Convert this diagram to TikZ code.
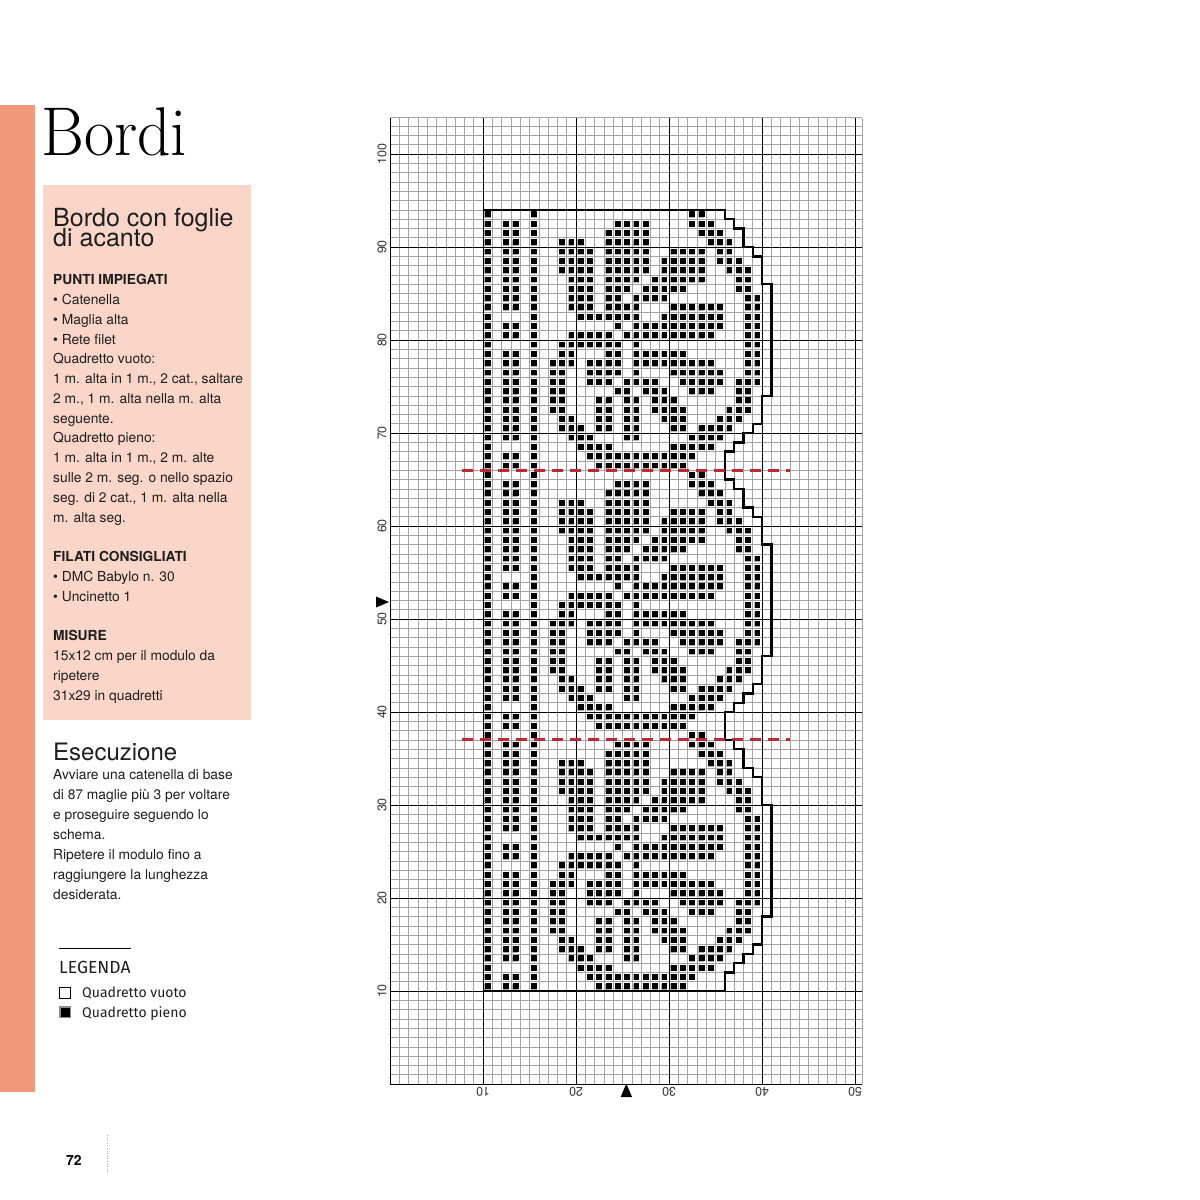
\documentclass[tikz,border=0pt]{standalone}
\usepackage{fontspec}
\usepackage{graphicx}
\newfontfamily\hv{TeX Gyre Heros}
\newfontfamily\fira{Fira Sans}
\definecolor{salmon}{HTML}{F2997B}
\definecolor{peach}{HTML}{F9D6C8}
\definecolor{dashred}{HTML}{BB2B35}
\definecolor{gridgray}{HTML}{A4A4A4}
\definecolor{ink}{HTML}{1E1E1E}
\definecolor{sqshadow}{HTML}{B4B4B4}
\tikzset{
  body/.style={anchor=base west, inner sep=0pt, text=ink, font=\hv\fontsize{13.8pt}{16pt}\selectfont},
  bodyb/.style={body, font=\hv\bfseries\fontsize{13.8pt}{16pt}\selectfont},
  head/.style={anchor=base west, inner sep=0pt, text=ink, align=left, font=\hv\fontsize{25pt}{20pt}\selectfont},
  gridthin/.style={draw=gridgray, line width=0.55pt},
  griddark/.style={draw=black, line width=0.9pt},
  outline/.style={draw=black, line width=2.4pt, line join=miter},
  axislab/.style={inner sep=0pt, text=black!80, font=\hv\fontsize{12.5pt}{13pt}\selectfont},
  redcut/.style={draw=dashred, line width=3pt, dash pattern=on 11pt off 7pt},
  legtext/.style={anchor=base west, inner sep=0pt, text=ink, font=\fira\fontsize{14pt}{16pt}\selectfont},
}
\begin{document}
\begin{tikzpicture}[x=1pt,y=-1pt]
\useasboundingbox (0,0) rectangle (1200,1200);
\fill[white] (0,0) rectangle (1200,1200);
% left bar and box
\fill[salmon] (0,105) rectangle (34.5,1092);
\fill[peach] (43,185) rectangle (251,720);
% title
\node[anchor=base west, inner sep=0pt, text=black] (title) at (41,155) {\fontsize{69pt}{70pt}\selectfont\scalebox{0.95}[1]{Bordi}};
% box heading (base anchor = last line)
\node[head] (h1) at (53,246) {Bordo con foglie\\[-5pt]di acanto};
% box body
\node[bodyb] (b1) at (53,284) {PUNTI IMPIEGATI};
\node[body] (b2) at (53,304) {\textbullet\ Catenella};
\node[body] (b3) at (53,324) {\textbullet\ Maglia alta};
\node[body] (b4) at (53,344) {\textbullet\ Rete filet};
\node[body] (b5) at (53,363) {Quadretto vuoto:};
\node[body] (b6) at (53,383) {1 m. alta in 1 m., 2 cat., saltare};
\node[body] (b7) at (53,403) {2 m., 1 m. alta nella m. alta};
\node[body] (b8) at (53,423) {seguente.};
\node[body] (b9) at (53,442) {Quadretto pieno:};
\node[body] (b10) at (53,462) {1 m. alta in 1 m., 2 m. alte};
\node[body] (b11) at (53,482) {sulle 2 m. seg. o nello spazio};
\node[body] (b12) at (53,502) {seg. di 2 cat., 1 m. alta nella};
\node[body] (b13) at (53,522) {m. alta seg.};
\node[bodyb] (b14) at (53,561) {FILATI CONSIGLIATI};
\node[body] (b15) at (53,581) {\textbullet\ DMC Babylo n. 30};
\node[body] (b16) at (53,601) {\textbullet\ Uncinetto 1};
\node[bodyb] (b17) at (53,640) {MISURE};
\node[body] (b18) at (53,660) {15x12 cm per il modulo da};
\node[body] (b19) at (53,680) {ripetere};
\node[body] (b20) at (53,700) {31x29 in quadretti};
% Esecuzione
\node[head, font=\hv\fontsize{24pt}{26pt}\selectfont] (e0) at (53,760) {Esecuzione};
\node[body] (e1) at (53,779) {Avviare una catenella di base};
\node[body] (e2) at (53,799) {di 87 maglie più 3 per voltare};
\node[body] (e3) at (53,819) {e proseguire seguendo lo};
\node[body] (e4) at (53,839) {schema.};
\node[body] (e5) at (53,859) {Ripetere il modulo fino a};
\node[body] (e6) at (53,879) {raggiungere la lunghezza};
\node[body] (e7) at (53,899) {desiderata.};
% legend
\draw[black, line width=0.8pt] (59,948) -- (131,948);
\node[legtext, font=\fira\fontsize{17.5pt}{18pt}\selectfont] (leg) at (59,973) {LEGENDA};
\draw[black, line width=1pt] (59.5,987) rectangle (70.5,998);
\fill[black!45] (59,1006) rectangle (71,1018);
\fill[black] (60.5,1007.5) rectangle (70,1017);
\node[legtext] (l1) at (82,997) {Quadretto vuoto};
\node[legtext] (l2) at (82,1017) {Quadretto pieno};
% page number
\node[anchor=base west, inner sep=0pt, font=\hv\bfseries\fontsize{14pt}{15pt}\selectfont] (pg) at (66,1165) {72};
\draw[black!35, line width=0.6pt, dotted] (107,1135) -- (107,1173);
% markers
\fill[black] (376,596.5) -- (376,607.5) -- (389,602) -- cycle;
\fill[black] (620.7,1097) -- (632,1097) -- (626.3,1083.5) -- cycle;
% chart
\begin{scope}[shift={(390,1084)}, x=9.3pt, y=9.3pt]
  \foreach \c in {0,...,50} \draw[gridthin] (\c,0) -- (\c,103.9);
  \draw[gridthin] (50.75,0) -- (50.75,103.9);
  \foreach \r in {0,...,103} \draw[gridthin] (0,\r) -- (50.75,\r);
  \draw[gridthin] (0,103.9) -- (50.75,103.9);
  \foreach \c in {10,20,30,40,50} \draw[griddark] (\c,0) -- (\c,103.9);
  \foreach \r in {10,20,...,100} \draw[griddark] (0,\r) -- (50.75,\r);
  \draw[griddark] (0,0) -- (0,103.9);
  \draw[griddark] (0,0) -- (50.75,0);
  % filled squares
  \foreach \m/\cols in {
    65/{0,5,22,23},
    64/{0,2,3,5,14,15,16,17,22,23,24},
    63/{0,2,3,5,13,14,15,16,17,23,24,25},
    62/{0,2,3,5,8,9,10,13,14,15,16,17,24,25,26},
    61/{0,2,3,5,8,9,10,11,13,14,15,16,17,20,21,22,23,25,26},
    60/{0,2,3,5,8,9,10,11,13,14,15,16,17,19,20,21,22,23,25,26,27},
    59/{0,2,3,5,8,9,10,11,13,14,15,16,17,19,20,21,22,23,26,27,28},
    58/{0,2,3,5,9,10,11,13,14,15,16,18,19,20,21,22,23,27,28},
    57/{0,2,3,5,9,10,11,13,14,15,17,18,19,20,21,27,28},
    56/{0,2,3,5,9,10,11,13,14,16,17,18,19,28,29},
    55/{0,2,3,5,9,10,11,13,14,15,16,20,21,22,23,24,25,28,29},
    54/{0,5,10,11,12,13,14,15,16,19,20,21,22,23,24,25,28,29},
    53/{0,2,3,5,14,16,17,18,19,20,21,22,23,24,25,28,29},
    52/{0,2,3,5,9,10,11,12,13,15,16,17,18,19,20,21,22,23,24,28,29},
    51/{0,5,8,9,10,11,12,13,14,16,28,29},
    50/{0,2,3,5,8,9,13,14,16,17,18,19,20,21,28,29},
    49/{0,2,3,5,7,8,9,11,12,13,14,16,17,18,19,20,21,22,23,24,28,29},
    48/{0,2,3,5,7,8,11,12,13,14,16,20,21,22,23,24,25,28,29},
    47/{0,2,3,5,7,8,11,12,13,15,16,17,18,21,22,23,24,25,27,28,29},
    46/{0,2,3,5,7,8,14,15,17,18,19,22,23,24,27,28},
    45/{0,2,3,5,7,8,12,13,15,16,18,19,20,27,28},
    44/{0,2,3,5,7,8,12,13,15,16,18,19,20,21,26,27,28},
    43/{0,2,3,5,8,9,12,13,15,16,19,20,21,25,26,27},
    42/{0,2,3,5,8,9,10,12,13,15,16,20,21,23,24,25,26},
    41/{0,2,3,5,9,10,11,15,16,22,23,24,25},
    40/{0,5,10,11,12,13,20,21,22,23,24},
    39/{0,2,3,5,11,12,13,14,15,16,17,18,19,20,21,22},
    38/{0,2,3,5,12,13,14,15,16,17,18,19,20,21}}
  {
    \foreach \c in \cols {
      \foreach \k in {-28,0,28} {
        \fill[sqshadow] ({10+\c+0.15},{\m+\k+0.14}) rectangle ++(0.66,0.66);
        \fill[black] ({10+\c+0.2},{\m+\k+0.2}) rectangle ++(0.62,0.62);
      }
    }
  }
  % outline
  \draw[outline] (10,94) -- (36,94) -- (36,93) -- (37,93) -- (37,92) -- (38,92) -- (38,90) -- (39,90) -- (39,89) -- (40,89) -- (40,86) -- (41,86) -- (41,74) -- (40,74) -- (40,71) -- (39,71) -- (39,70) -- (38,70) -- (38,69) -- (37,69) -- (37,68) -- (36,68) -- (36,65) -- (37,65) -- (37,64) -- (38,64) -- (38,62) -- (39,62) -- (39,61) -- (40,61) -- (40,58) -- (41,58) -- (41,46) -- (40,46) -- (40,43) -- (39,43) -- (39,42) -- (38,42) -- (38,41) -- (37,41) -- (37,40) -- (36,40) -- (36,37) -- (37,37) -- (37,36) -- (38,36) -- (38,34) -- (39,34) -- (39,33) -- (40,33) -- (40,30) -- (41,30) -- (41,18) -- (40,18) -- (40,15) -- (39,15) -- (39,14) -- (38,14) -- (38,13) -- (37,13) -- (37,12) -- (36,12) -- (36,10) -- (10,10);
  % repeat cut lines
  \draw[redcut] (7.75,66) -- (43,66);
  \draw[redcut] (7.75,37) -- (43,37);
  % axis labels
  \foreach \r in {10,20,...,100} \node[axislab, rotate=90] (ly\r) at (-0.85,\r) {\r};
  \foreach \c in {10,20,...,50} \node[axislab, rotate=180] (lx\c) at (\c,-0.8) {\c};
\end{scope}
\end{tikzpicture}
\end{document}
